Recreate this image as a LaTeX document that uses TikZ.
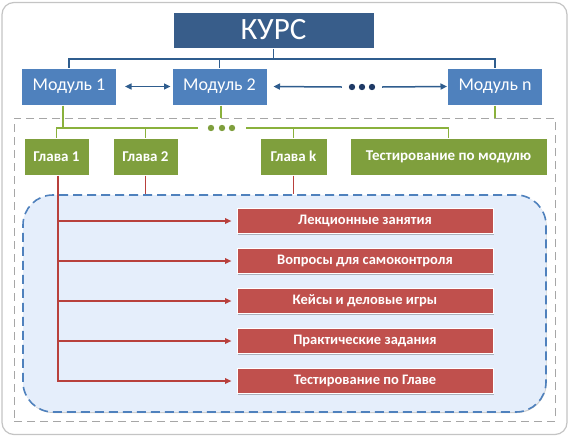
\documentclass[tikz,border=0pt]{standalone}
\usepackage{fontspec}
\setmainfont{Carlito}
\usetikzlibrary{shadows,arrows.meta}
\definecolor{kursblue}{HTML}{385D8A}
\definecolor{modblue}{HTML}{4F81BD}
\definecolor{conblue}{HTML}{2F5D8E}
\definecolor{dotblue}{HTML}{1F3A66}
\definecolor{chapgreen}{HTML}{7F9F3D}
\definecolor{linegreen}{HTML}{8AB13C}
\definecolor{itemred}{HTML}{C0504D}
\definecolor{linered}{HTML}{B8403C}
\definecolor{panelblue}{HTML}{E5EEFB}
\definecolor{paneledge}{HTML}{4F81BD}
\definecolor{framegray}{HTML}{A6A6A6}
\definecolor{bordergray}{HTML}{C4C4C4}
\begin{document}
\begin{tikzpicture}[x=1pt,y=-1pt,
  box/.style={rectangle, draw=white, line width=1pt, text=white, inner sep=0pt,
    drop shadow={shadow xshift=0.8pt, shadow yshift=-1.3pt, opacity=0.25, fill=black}},
  kursbox/.style={box, fill=kursblue, minimum width=201, minimum height=36,
    font=\fontsize{31}{33}\selectfont},
  modbox/.style={box, fill=modblue, minimum width=95, minimum height=37,
    font=\fontsize{18}{20}\selectfont},
  chapbox/.style={box, fill=chapgreen, minimum height=37,
    font=\fontsize{15}{17}\selectfont\bfseries},
  itembox/.style={box, fill=itemred, minimum width=256, minimum height=25,
    font=\fontsize{14.5}{16}\selectfont\bfseries},
  gap/.style={inner sep=0pt, minimum height=8},
  bline/.style={draw=conblue, line width=1.5pt},
  barrow/.style={bline, -{Triangle[length=6.5pt,width=6pt]}},
  gline/.style={draw=linegreen, line width=1.6pt},
  rline/.style={draw=linered, line width=1.7pt},
  rarrow/.style={rline, -{Triangle[length=6.5pt,width=5.5pt]}, shorten >=5pt},
]
\useasboundingbox (0,0) rectangle (570,437);

% outer border and frames
\node[draw=bordergray, line width=1.2pt, rounded corners=12pt, fill=white,
  minimum width=565, minimum height=432, inner sep=0pt] (border) at (284.5,218.5) {};
\node[draw=framegray, line width=1pt, dash pattern=on 8pt off 5pt,
  minimum width=541, minimum height=303, inner sep=0pt] (frame) at (284.5,269.5) {};
\node[draw=paneledge, fill=panelblue, line width=1.6pt, dash pattern=on 9pt off 5pt,
  rounded corners=30pt, minimum width=523, minimum height=217, inner sep=0pt,
  drop shadow={shadow xshift=0.6pt, shadow yshift=-1pt, opacity=0.2, fill=black}]
  (panel) at (284.5,303.5) {};

% top level
\node[kursbox] (kurs) at (273.5,30) {КУРС};
\node[modbox] (m1) at (69,86.5) {Модуль 1};
\node[modbox] (m2) at (219.5,86.5) {Модуль 2};
\node[modbox] (mn) at (495,86.5) {Модуль n};
\node[gap, minimum width=40] (mdots) at (362,87) {};
\coordinate (hb) at (0,59);

\draw[bline] (kurs.south) -- (kurs.south |- hb) -| (m1.north);
\draw[bline] (kurs.south |- hb) -| (m2.north);
\draw[bline] (kurs.south |- hb) -| (mn.north);

\draw[barrow, {Triangle[length=6.5pt,width=6pt]}-{Triangle[length=6.5pt,width=6pt]},
  shorten <=8pt, shorten >=1pt] (m1.east) -- (m2.west);
\draw[barrow, shorten >=6pt] (mdots.west) -- (m2.east);
\draw[barrow] (mdots.east) -- (mn.west);
\foreach \dx in {-10,0,10}
  \fill[dotblue] ([xshift=\dx pt]mdots.center) circle (3.2pt);

% chapters
\node[chapbox, minimum width=65] (g1) at (56.5,156.5) {Глава 1};
\node[chapbox, minimum width=65] (g2) at (145.5,156.5) {Глава 2};
\node[chapbox, minimum width=67] (gk) at (293.5,156.5) {Глава k};
\node[chapbox, minimum width=197] (gt) at (448.5,156.5) {Тестирование по модулю};
\node[gap, minimum width=48] (gdots) at (222,128) {};

\draw[gline] ([xshift=-6pt]m1.south) -- ([xshift=-6pt]m1.south |- gdots.west);
\draw[gline] (g1.north) |- (gdots.west);
\draw[gline] (g2.north) -- (g2.north |- gdots.west);
\draw[gline] (gdots.east) -| (gt.north);
\draw[gline] (gk.north) -- (gk.north |- gdots.east);
\draw[gline] ([xshift=1.5pt]m2.south) -- ([xshift=1.5pt]m2.south |- frame.north);
\draw[gline] (mn.south) -- (mn.south |- frame.north);
\foreach \dx in {-11,0,10}
  \fill[chapgreen] ([xshift=\dx pt]gdots.center) circle (3.2pt);

% chapter contents
\node[itembox] (r1) at (365,221) {Лекционные занятия};
\node[itembox] (r2) at (365,261) {Вопросы для самоконтроля};
\node[itembox] (r3) at (365,301) {Кейсы и деловые игры};
\node[itembox] (r4) at (365,341) {Практические задания};
\node[itembox] (r5) at (365,381) {Тестирование по Главе};
\coordinate (sp) at ([xshift=1.5pt]g1.south);

\draw[rline] (g2.south) -- (g2.south |- panel.north);
\draw[rline] (gk.south) -- (gk.south |- panel.north);
\draw[rarrow] (sp) |- (r5.west);
\foreach \r in {r1,r2,r3,r4}
  \draw[rarrow] (sp |- \r.west) -- (\r.west);
\end{tikzpicture}
\end{document}
